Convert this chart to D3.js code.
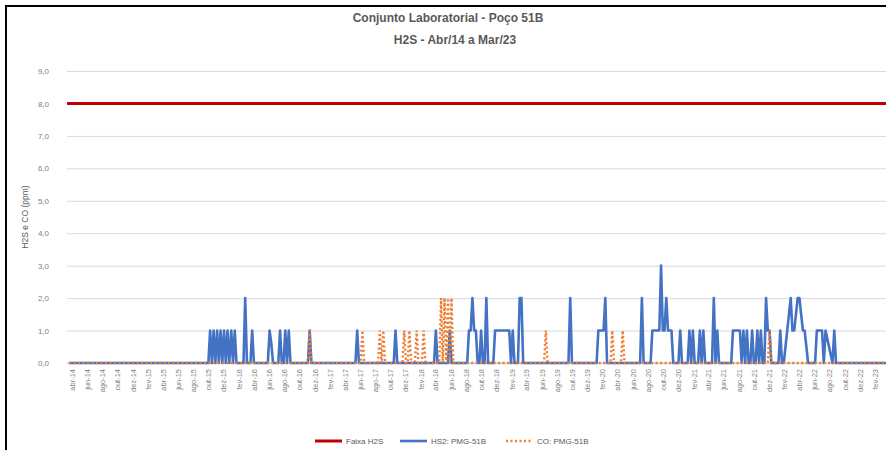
<!DOCTYPE html>
<html>
<head>
<meta charset="utf-8">
<script src="https://cdn.jsdelivr.net/npm/d3@7"></script>
<style>
  body { margin: 0; background: #fff; }
  text { font-family: "Liberation Sans", Arial, sans-serif; }
</style>
</head>
<body>
<svg width="886" height="450"></svg>
<script>
// valores semanais (null = sem medicao)
const h2s2014 = [0,0,0,0,0,0,0,0,0,0, 0,0,0,0,0,0,0,0,0,0, 0,0,0,0,0,0,0,0,0,0, 0,0,0,0,0,0,0,0,0,0, 0];
const co2014  = [0,0,0,0,0,0,0,0,0,0, 0,0,0,0,0,0,0,0,0,0, 0,0,0,0,0,0,0,0,0,0, 0,0,0,0,0,0,0,0,0,0, 0];

const h2s2015 = [0,0,0,0,0,0,0,0,0,0, 0,0,0,0,0,0,0,0,0,0, 0,0,0,0,0,0,0,0,0,0, 0,0,0,0,0,0,0,0,0,0, 1,0,1,0,1,0,1,0,1,0, 1,0];
const co2015  = [0,0,0,0,0,0,0,0,0,0, 0,0,0,0,0,0,0,0,0,0, 0,0,0,0,0,0,0,0,0,0, 0,0,0,0,0,0,0,0,0,0, 0,0,0,0,0,0,0,0,0,0, 0,0];

const h2s2016 = [1,0,1,0,0,0,0,0,2,0, 0,0,1,0,0,0,0,0,0,0, 0,0,1,0.6,0,0,0,0,1,0, 0,1,0,1,0,0,0,0,0,0, 0,0,0,0,0,1,0,0,0,0, 0,0];
const co2016  = [0,0,0,0,0,0,0,0,0,0, 0,0,0,0,0,0,0,0,0,0, 0,0,0,0,0,0,0,0,0,0, 0,0,0,0,0,0,0,0,0,0, 0,0,0,0,0,1,0,0,0,0, 0,0];

const h2s2017 = [0,0,0,0,0,0,0,0,0,0, 0,0,0,0,0,0,0,0,0,0, 1,0,0,0,0,0,0,0,0,0, 0,0,0,0,0,0,0,0,0,0, 0,0,1,0,0,0,0,0,0,0, 0,0];
const co2017  = [0,0,0,0,0,0,0,0,0,0, 0,0,0,0,0,0,0,0,0,0, 0,0,0,1,0,0,0,0,0,0, 0,0,0,1,0,1,0,0,0,0, 0,0,0,0,0,0,0,1,0,0, 1,0];

const h2s2018 = [0,0,0,0,0,0,0,0,0,0, 0,0,0,1,0,0,0,0,0,0, 0,1,0,0,0,0,0,0,0,0, 0,0,1,1,2,1,1,0,0,1, 0,0,2,0,0,0,0,1,1,1, 1,1];
const co2018  = [0,0,1,0,0,0,1,0,0,0, 0,0,0,0,0,0,2,0,2,0, 2,0,2,0,0,0,0,0,0,0, 0,0,0,0,0,0,0,0,0,0, 0,0,0,0,0,0,0,0,0,0, 0,0];

const h2s2019 = [1,1,1,1,0,1,0,0,0,2, 2,0,0,0,0,0,0,0,0,0, 0,0,0,0,0,0,0,0,0,0, 0,0,0,0,0,0,0,0,2,0, 0,0,0,0,0,0,0,0,0,0, 0,0];
const co2019  = [0,0,0,0,0,0,0,0,0,0, 0,0,0,0,0,0,0,0,0,0, 0,0,0,0,1,0,0,0,0,0, 0,0,0,0,0,0,0,0,0,0, 0,0,0,0,0,0,0,0,0,0, 0,0];

const h2s2020 = [0,0,1,1,1,1,2,0,0,0, 0,0,0,0,0,0,0,0,0,0, 0,0,0,0,0,0,0,2,0,0, 0,0,0,1,1,1,1,1,3,1, 1,2,1,1,1,0,0,0,0,1, 0,0];
const co2020  = [0,0,0,0,0,0,0,0,0,0, 1,0,0,0,0,0,1,0,0,0, 0,0,0,0,0,0,0,0,0,0, 0,0,0,0,0,0,0,0,0,0, 0,0,0,0,0,0,0,0,0,0, 0,0];

const h2s2021 = [0,0,1,0,1,0,0,0,1,0, 1,0,0,0,0,0,2,0,1,0, 0,0,0,0,0,0,0,1,1,1, 1,1,0,1,0,1,0,0,1,0, 0,1,0,1,0,0,2,1,1,0, 0,0];
const co2021  = [0,0,0,0,0,0,0,0,0,0, 0,0,0,0,0,0,0,0,0,0, 0,0,0,0,0,0,0,0,0,0, 0,0,0,0,0,0,0,0,0,0, 0,0,0,0,0,0,0,0,1,0, 0,0];

const h2s2022 = [0,0,1,0,0,null,1,null,2,1, 1,null,2,2,null,1,1,null,0,0, 0,0,0,1,1,1,1,0,1,null, null,null,0,1,0,0,0,0,0,0, 0,0,0,0,0,0,0,0,0,0, 0,0];
const co2022  = [0,0,0,0,0,0,0,0,0,0, 0,0,0,0,0,0,0,0,0,0, 0,0,0,0,0,0,0,0,0,0, 0,0,0,0,0,0,0,0,0,0, 0,0,0,0,0,0,0,0,0,0, 0,0];

const h2s2023 = [0,0,0,0,0,0,0,0,0,0, 0,0,0];
const co2023  = [0,0,0,0,0,0,0,0,0,0, 0,0,0];

const faixaH2S = [8, 8];
const yTicks = [0, 1, 2, 3, 4, 5, 6, 7, 8, 9];
const mesesPt = ['jan','fev','mar','abr','mai','jun','jul','ago','set','out','nov','dez'];

const anos = [
  {start: new Date(2014, 2, 20), h2s: h2s2014, co: co2014},
  {start: new Date(2015, 0, 1), h2s: h2s2015, co: co2015},
  {start: new Date(2016, 0, 1), h2s: h2s2016, co: co2016},
  {start: new Date(2017, 0, 1), h2s: h2s2017, co: co2017},
  {start: new Date(2018, 0, 1), h2s: h2s2018, co: co2018},
  {start: new Date(2019, 0, 1), h2s: h2s2019, co: co2019},
  {start: new Date(2020, 0, 1), h2s: h2s2020, co: co2020},
  {start: new Date(2021, 0, 1), h2s: h2s2021, co: co2021},
  {start: new Date(2022, 0, 1), h2s: h2s2022, co: co2022},
  {start: new Date(2023, 0, 1), h2s: h2s2023, co: co2023}
];

function serie(key) {
  let pts = [];
  anos.forEach(a => {
    a[key].forEach((v, i) => {
      if (v !== null) pts.push({date: d3.timeDay.offset(a.start, 7 * i), value: v});
    });
  });
  return pts;
}
let h2sData = serie('h2s');
let coData = serie('co');

let svg = d3.select('svg');
svg.append('rect').attr('width', 886).attr('height', 450).attr('fill', '#fff');
svg.append('rect')
  .attr('x', 6).attr('y', 6).attr('width', 900).attr('height', 500)
  .attr('fill', 'none').attr('stroke', '#000').attr('stroke-width', 2);

let plotLeft = 67, plotRight = 886;
let x = d3.scaleTime().domain([new Date(2014, 3, 1), new Date(2023, 3, 1)]).range([72, 890]);
let y = d3.scaleLinear().domain([0, 9]).range([363, 71]);

// titulo
svg.append('text').attr('x', 448).attr('y', 22).attr('text-anchor', 'middle')
  .attr('font-size', 12).attr('font-weight', 'bold').attr('fill', '#595959')
  .text('Conjunto Laboratorial - Poço 51B');
svg.append('text').attr('x', 455).attr('y', 44).attr('text-anchor', 'middle')
  .attr('font-size', 12).attr('font-weight', 'bold').attr('fill', '#595959')
  .text('H2S - Abr/14 a Mar/23');

// grade
svg.append('g')
  .attr('transform', `translate(${plotLeft},0)`)
  .call(d3.axisLeft(y).tickValues(yTicks).tickSize(-(plotRight - plotLeft)).tickFormat(''))
  .call(g => g.select('.domain').remove())
  .call(g => g.selectAll('line').attr('stroke', '#d9d9d9'));

// eixo y
svg.append('g')
  .attr('transform', 'translate(52,0)')
  .call(d3.axisLeft(y).tickValues(yTicks).tickSize(0).tickFormat(d => d.toFixed(1).replace('.', ',')))
  .call(g => g.select('.domain').remove())
  .call(g => g.selectAll('text').attr('font-size', 8).attr('fill', '#7f7f7f')
    .attr('font-family', '"Liberation Sans", Arial, sans-serif'));

svg.append('text')
  .attr('transform', 'translate(28,217) rotate(-90)')
  .attr('text-anchor', 'middle').attr('font-size', 8.5).attr('fill', '#595959')
  .text('H2S e CO (ppm)');

// eixo x
let xTicks = d3.timeMonth.range(new Date(2014, 3, 1), new Date(2023, 2, 1), 2);
svg.append('g')
  .attr('transform', `translate(0,${y(0)})`)
  .call(d3.axisBottom(x).tickValues(xTicks).tickSize(0)
    .tickFormat(d => mesesPt[d.getMonth()] + '-' + String(d.getFullYear()).slice(2)))
  .call(g => g.select('.domain').remove())
  .call(g => g.selectAll('text')
    .attr('font-size', 7.5).attr('fill', '#7f7f7f')
    .attr('font-family', '"Liberation Sans Narrow", "Liberation Sans", Arial, sans-serif')
    .attr('text-anchor', 'end').attr('dx', '-6').attr('dy', '0.32em')
    .attr('transform', 'rotate(-90)').attr('y', 0));

svg.append('line')
  .attr('x1', plotLeft).attr('x2', plotRight).attr('y1', y(0)).attr('y2', y(0))
  .attr('stroke', '#bfbfbf');

svg.append('clipPath').attr('id', 'plot')
  .append('rect').attr('x', plotLeft).attr('y', 60).attr('width', plotRight - plotLeft).attr('height', 320);

let line = d3.line().x(d => x(d.date)).y(d => y(d.value));
let plot = svg.append('g').attr('clip-path', 'url(#plot)');

let faixaDatas = [new Date(2014, 2, 12), new Date(2023, 3, 1)];
plot.append('path')
  .datum(faixaH2S.map((v, i) => ({date: faixaDatas[i], value: v})))
  .attr('d', line).attr('fill', 'none').attr('stroke', '#c00000').attr('stroke-width', 3);

plot.append('path')
  .datum(h2sData)
  .attr('d', line).attr('fill', 'none').attr('stroke', '#4472c4')
  .attr('stroke-width', 2.6).attr('stroke-linejoin', 'round');

plot.append('path')
  .datum(coData)
  .attr('d', line).attr('fill', 'none').attr('stroke', '#ed7d31')
  .attr('stroke-width', 2.4).attr('stroke-dasharray', '2,2.5');

// legenda
let legenda = [
  {label: 'Faixa H2S', color: '#c00000', x: 315, dash: null, w: 3},
  {label: 'HS2: PMG-51B', color: '#4472c4', x: 400, dash: null, w: 2.6},
  {label: 'CO: PMG-51B', color: '#ed7d31', x: 506, dash: '2,2.5', w: 2.4}
];
let lg = svg.append('g').selectAll('g').data(legenda).enter().append('g');
lg.append('line')
  .attr('x1', d => d.x).attr('x2', d => d.x + 27).attr('y1', 441).attr('y2', 441)
  .attr('stroke', d => d.color).attr('stroke-width', d => d.w)
  .attr('stroke-dasharray', d => d.dash);
lg.append('text')
  .attr('x', d => d.x + 31).attr('y', 444)
  .attr('font-size', 8).attr('fill', '#595959')
  .text(d => d.label);
</script>
</body>
</html>
